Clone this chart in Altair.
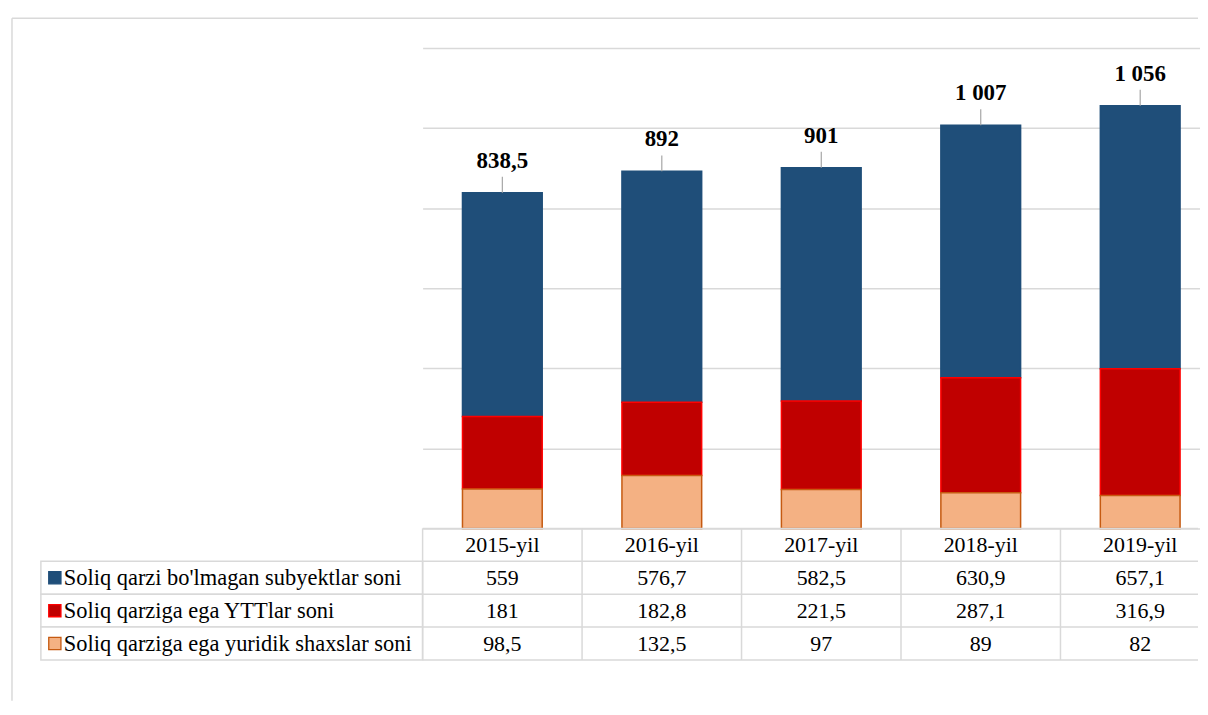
import altair as alt
import pandas as pd

# ---------------- data ----------------
years = ["2015-yil", "2016-yil", "2017-yil", "2018-yil", "2019-yil"]
series = [
    "Soliq qarzi bo'lmagan subyektlar soni",
    "Soliq qarziga ega YTTlar soni",
    "Soliq qarziga ega yuridik shaxslar soni",
]
no_debt = [559, 576.7, 582.5, 630.9, 657.1]
ytt_debt = [181, 182.8, 221.5, 287.1, 316.9]
legal_debt = [98.5, 132.5, 97, 89, 82]
grid_values = [0, 200, 400, 600, 800, 1000, 1200]

fill_colors = ["#1F4E79", "#C00000", "#F4B183"]
stroke_colors = ["#1F4E79", "#FF0000", "#C55A11"]
GRID = "#D9D9D9"
FONT = "'Liberation Serif', 'Times New Roman', 'DejaVu Serif', serif"


def fmt(v):
    v = round(v, 1)
    if float(v).is_integer():
        return f"{int(v):,}".replace(",", " ")
    return f"{v:,.1f}".replace(",", " ").replace(".", ",")


values = [no_debt, ytt_debt, legal_debt]
stack_idx = [2, 1, 0]  # bottom: legal entities, then YTT, top: no debt

bar_rows = []
for s, vals, k in zip(series, values, stack_idx):
    for y, v in zip(years, vals):
        bar_rows.append({"year": y, "series": s, "value": v, "idx": k})
df_bars = pd.DataFrame(bar_rows)

totals = [round(a + b + c, 1) for a, b, c in zip(no_debt, ytt_debt, legal_debt)]
df_tot = pd.DataFrame({"year": years, "total": totals, "label": [fmt(t) for t in totals]})

row_names = ["header"] + series
table_rows = []
for y in years:
    table_rows.append({"year": y, "row": "header", "text": y})
for s, vals in zip(series, values):
    for y, v in zip(years, vals):
        table_rows.append({"year": y, "row": s, "text": fmt(v)})
df_table = pd.DataFrame(table_rows)
df_years = pd.DataFrame({"year": years})
df_rowlines = pd.DataFrame({"row": row_names})

df_labels = pd.DataFrame({"row": series, "series": series})

# ---------------- scales ----------------
color_scale = alt.Scale(domain=series, range=fill_colors)
stroke_scale = alt.Scale(domain=series, range=stroke_colors)
x_top = alt.Scale(domain=years, range=[0, 800], paddingInner=0.5, paddingOuter=0.25)
x_tab = alt.Scale(domain=years, range=[0, 800], paddingInner=0, paddingOuter=0)
y_top = alt.Scale(domain=[0, 1200], nice=False, zero=True)
row_scale = alt.Scale(domain=row_names, paddingInner=0, paddingOuter=0)

PLOT_W = 778
LEFT_W = 383
TOP_H = 482
TAB_H = 132

# ---------------- top: stacked bars ----------------
bars = alt.Chart(df_bars).mark_bar(strokeWidth=1.5).encode(
    x=alt.X("year:N", scale=x_top, axis=None, sort=years),
    y=alt.Y(
        "value:Q",
        stack="zero",
        scale=y_top,
        axis=alt.Axis(
            values=grid_values, grid=True, gridColor=GRID, gridWidth=1.5,
            labels=False, ticks=False, domain=False, title=None,
        ),
    ),
    color=alt.Color("series:N", scale=color_scale, legend=None),
    stroke=alt.Stroke("series:N", scale=stroke_scale, legend=None),
    order=alt.Order("idx:Q", sort="ascending"),
)

leaders = alt.Chart(df_tot).mark_rule(color="#A6A6A6", strokeWidth=1.2, y2Offset=-16).encode(
    x=alt.X("year:N", scale=x_top, axis=None, sort=years),
    y=alt.Y("total:Q", scale=y_top),
    y2="total:Q",
)

tot_text = alt.Chart(df_tot).mark_text(
    font=FONT, fontSize=23, fontWeight="bold", color="black", dy=-32, baseline="middle"
).encode(
    x=alt.X("year:N", scale=x_top, axis=None, sort=years),
    y=alt.Y("total:Q", scale=y_top),
    text="label:N",
)

top = alt.layer(bars, leaders, tot_text).properties(width=PLOT_W, height=TOP_H)

# ---------------- spacer with outer frame ----------------
frame_df = pd.DataFrame({"k": [0]})
frame_top = alt.Chart(frame_df).mark_rule(color=GRID, strokeWidth=1.5).encode(
    x=alt.value(-29), x2=alt.value(LEFT_W + PLOT_W), y=alt.value(-30)
)
frame_left = alt.Chart(frame_df).mark_rule(color=GRID, strokeWidth=1.5).encode(
    x=alt.value(-29), y=alt.value(-30), y2=alt.value(655)
)
spacer = alt.layer(frame_top, frame_left).properties(width=LEFT_W, height=TOP_H)

# ---------------- bottom-left: legend/label column ----------------
label_cells = alt.Chart(df_labels).mark_rect(fill="white", stroke=GRID, strokeWidth=1.5).encode(
    x=alt.value(0), x2=alt.value("width"),
    y=alt.Y("row:N", scale=row_scale, axis=None),
)
label_squares = alt.Chart(df_labels).mark_square(size=150, strokeWidth=1.3, opacity=1).encode(
    x=alt.value(14),
    y=alt.Y("row:N", scale=row_scale, axis=None),
    color=alt.Color("series:N", scale=color_scale, legend=None),
    stroke=alt.Stroke("series:N", scale=stroke_scale, legend=None),
)
label_text = alt.Chart(df_labels).mark_text(
    font=FONT, fontSize=22.5, color="black", align="left", baseline="middle"
).encode(
    x=alt.value(23),
    y=alt.Y("row:N", scale=row_scale, axis=None),
    text="series:N",
)
labels = alt.layer(label_cells, label_squares, label_text).properties(width=LEFT_W, height=TAB_H)

# ---------------- bottom-right: data table ----------------
hlines = alt.Chart(df_rowlines).mark_rule(color=GRID, strokeWidth=1.5).encode(
    x=alt.value(0), x2=alt.value("width"),
    y=alt.Y("row:N", scale=row_scale, axis=None, bandPosition=0),
)
bottom_line = alt.Chart(frame_df).mark_rule(color=GRID, strokeWidth=1.5).encode(
    x=alt.value(0), x2=alt.value("width"), y=alt.value("height"),
)
vlines = alt.Chart(df_years).mark_rule(color=GRID, strokeWidth=1.5).encode(
    x=alt.X("year:N", scale=x_tab, axis=None, sort=years, bandPosition=0),
    y=alt.value(0), y2=alt.value("height"),
)
cell_text = alt.Chart(df_table).mark_text(
    font=FONT, fontSize=22, color="black", baseline="middle"
).encode(
    x=alt.X("year:N", scale=x_tab, axis=None, sort=years),
    y=alt.Y("row:N", scale=row_scale, axis=None),
    text="text:N",
)
table = alt.layer(hlines, bottom_line, vlines, cell_text).properties(width=PLOT_W, height=TAB_H)

chart = alt.concat(
    spacer, top, labels, table, columns=2, spacing=0, bounds="flush"
).properties(
    padding={"left": 2, "top": 7, "right": 0, "bottom": 0},
    background="white",
).configure_view(stroke="transparent")

chart.save("out.html", embed_options={"renderer": "svg", "actions": False})
